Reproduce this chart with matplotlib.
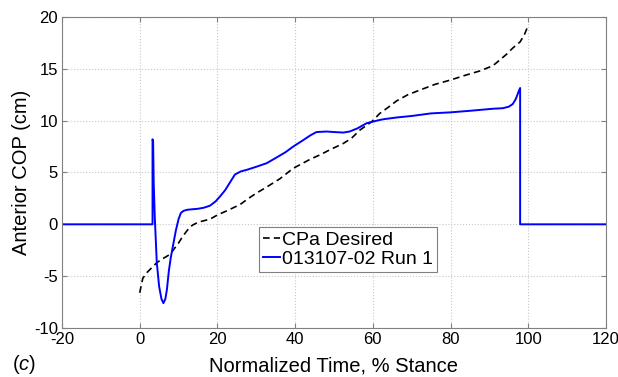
import numpy as np
import matplotlib
matplotlib.use('Agg')
import matplotlib.pyplot as plt

plt.rcParams['font.family'] = ['Liberation Sans', 'DejaVu Sans']
plt.rcParams['mathtext.fontset'] = 'custom'
plt.rcParams['mathtext.it'] = 'Liberation Sans:italic'
plt.rcParams['mathtext.rm'] = 'Liberation Sans'
plt.rcParams['axes.unicode_minus'] = False

# desired anterior COP trajectory (% stance, cm)
desired_t = [0, 0.8, 2, 4.4, 6, 7.8, 10, 11, 12.2, 13.5, 15, 18.1, 20, 22.4, 25.8, 28, 30,
             32.7, 36.1, 39.5, 42, 44, 46.4, 49, 52.4, 54.5, 56.7, 59.7, 61.8, 64, 66.1, 69,
             72.1, 76, 79.8, 84, 87.6, 90.9, 92.5, 94.4, 96, 97.9, 99, 100]
desired_cop = [-6.6, -5.2, -4.6, -3.7, -3.3, -2.9, -1.8, -1.2, -0.6, -0.1, 0.2, 0.5, 0.9, 1.3,
               1.9, 2.5, 3.0, 3.6, 4.4, 5.4, 5.9, 6.3, 6.7, 7.2, 7.8, 8.3, 9.1, 9.9, 10.7,
               11.3, 11.9, 12.5, 12.95, 13.5, 13.9, 14.4, 14.8, 15.3, 15.8, 16.4, 17.0, 17.6,
               18.3, 19.2]

# measured COP, run 1
run_t = [-20, 3.3, 3.3, 3.45, 3.6, 3.9, 4.4, 5.0, 5.6, 6.1, 6.6, 7.0, 7.5, 8.0, 8.6, 9.3,
         10.0, 10.6, 11.3, 12.2, 13.5, 15, 16.5, 18.1, 19.5, 20.7, 22, 23, 24.5, 26, 27.5,
         30, 32.7, 35, 37.5, 39.5, 42, 44, 45.5, 48.1, 50, 52.4, 54, 56, 58.4, 61.8, 63, 66,
         70, 75, 80, 85, 88, 91, 93.5, 95, 96, 96.8, 97.5, 97.9, 97.9, 120]
run_cop = [0, 0, 8.2, 8.0, 4.0, 0.5, -3.7, -6.0, -7.2, -7.6, -7.2, -6.3, -4.5, -3.2, -2.0,
           -0.6, 0.5, 1.1, 1.3, 1.4, 1.45, 1.5, 1.6, 1.8, 2.2, 2.7, 3.3, 3.9, 4.8, 5.1, 5.25,
           5.55, 5.9, 6.4, 6.95, 7.5, 8.1, 8.6, 8.9, 8.95, 8.9, 8.85, 8.95, 9.25, 9.75, 10.07,
           10.15, 10.3, 10.45, 10.7, 10.8, 10.95, 11.05, 11.15, 11.2, 11.35, 11.6, 12.1, 12.8,
           13.15, 0, 0]

xticks = np.arange(-20, 121, 20)
yticks = np.arange(-10, 21, 5)

fig = plt.figure(figsize=(6.18, 3.77), dpi=100)
ax = fig.add_axes([0.1003, 0.13, 0.8803, 0.825])

ax.plot(desired_t, desired_cop, color='black', lw=1.2, dashes=(4, 2.5), label='CPa Desired')
ax.plot(run_t, run_cop, color='#0000ff', lw=1.4, label='013107-02 Run 1')

ax.set_xlim(-20, 120)
ax.set_ylim(-10, 20)
ax.set_xticks(xticks)
ax.set_yticks(yticks)
ax.grid(True, color='#c8c8c8', linestyle=':', linewidth=0.8)
ax.tick_params(direction='in', length=3.5, labelsize=12, top=True, right=True, pad=3,
               color='#808080')
for s in ax.spines.values():
    s.set_color('#808080')

ax.set_xlabel('Normalized Time, % Stance', fontsize=14.5, labelpad=7)
ax.set_ylabel('Anterior COP (cm)', fontsize=14.5, labelpad=2)

leg = ax.legend(loc='lower left', bbox_to_anchor=(0.362, 0.18), fontsize=14,
                handlelength=0.9, handletextpad=0.1, borderpad=0.2, labelspacing=0.1,
                borderaxespad=0, fancybox=False, framealpha=1)
leg.get_frame().set_edgecolor('#808080')
leg.get_frame().set_linewidth(0.8)

fig.text(0.019, 0.018, '(' + r'$\mathit{c}$' + ')', fontsize=14.5)

plt.savefig('out.png', dpi=100)
